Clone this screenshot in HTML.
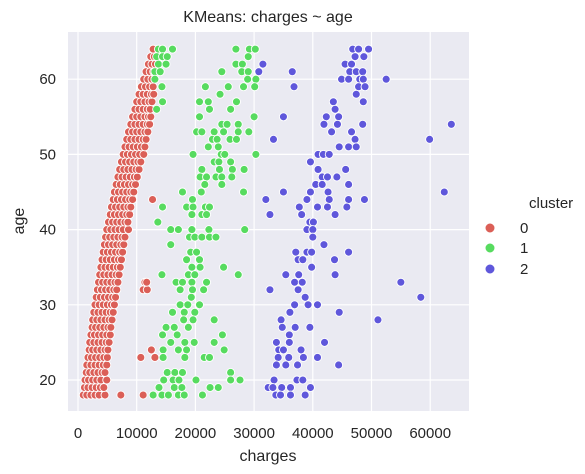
<!DOCTYPE html>
<html><head><meta charset="utf-8"><style>
html,body{margin:0;padding:0;background:#fff;}
svg{display:block;font-family:"Liberation Sans","DejaVu Sans",sans-serif;}
</style></head><body>
<svg id="chart" width="585" height="474" viewBox="0 0 585 474">
<text x="268" y="22" text-anchor="middle" font-size="16" fill="#262626">KMeans: charges ~ age</text>
<rect x="68" y="32" width="401" height="379" fill="#eaeaf2"/>
<g id="grid"></g>
<g id="xticks"></g>
<g id="yticks"></g>
<g id="points"></g>
<text x="268" y="461" text-anchor="middle" font-size="16" fill="#262626">charges</text>
<text x="24" y="221" text-anchor="middle" font-size="16" fill="#262626" transform="rotate(-90 24 221)">age</text>
<g>
<text x="529" y="208" font-size="15" fill="#262626">cluster</text>
<g><circle cx="490" cy="228" r="5" fill="#db5f57" stroke="#fff" stroke-width="1"/><text x="520" y="233" font-size="15" fill="#262626">0</text></g>
<g><circle cx="490" cy="248" r="5" fill="#57db5f" stroke="#fff" stroke-width="1"/><text x="520" y="253" font-size="15" fill="#262626">1</text></g>
<g><circle cx="490" cy="269" r="5" fill="#5f57db" stroke="#fff" stroke-width="1"/><text x="520" y="274" font-size="15" fill="#262626">2</text></g>
</g>
</svg>
<script>
// charges in thousands; rows: [age, [charges...]]
const xTicks = [0, 10000, 20000, 30000, 40000, 50000, 60000];
const yTicks = [20, 30, 40, 50, 60];
const clusterColors = ["#db5f57", "#57db5f", "#5f57db"];
const cluster0Rows = [
[18,[0.9,1.5,2.2,2.9,3.6,4.6,7.3,11.1,12.8]],[19,[1.1,1.7,2.4,3.1,3.8,4.4]],[20,[1.2,1.8,2.5,3.2,3.9,4.9]],
[21,[1.4,2.0,2.7,3.4,4.1,4.6]],[22,[1.5,2.2,2.9,3.6,4.3,4.9]],[23,[1.7,2.3,3.0,3.7,4.4,5.0,10.7,13.1]],
[24,[1.9,2.5,3.2,3.9,4.6,5.1,12.5]],[25,[2.0,2.7,3.4,4.1,4.8,5.3]],[26,[2.2,2.8,3.5,4.2,4.9,5.5]],
[27,[2.4,3.0,3.7,4.4,5.1,5.6]],[28,[2.5,3.2,3.9,4.6,5.3,5.8]],[29,[2.7,3.4,4.1,4.8,5.5,6.0]],
[30,[2.9,3.6,4.3,5.0,5.7,6.2]],[31,[3.1,3.8,4.5,5.2,5.9,6.4]],[32,[3.3,4.0,4.7,5.4,6.1,6.6,11.1,11.8]],
[33,[3.5,4.2,4.9,5.6,6.3,6.8,11.4,11.7]],[34,[3.7,4.4,5.1,5.8,6.5,7.0]],[35,[3.9,4.6,5.3,6.0,6.7,7.2]],
[36,[4.1,4.8,5.5,6.2,6.9,7.4]],[37,[4.3,5.0,5.7,6.4,7.1,7.6]],[38,[4.5,5.2,5.9,6.6,7.3,7.8]],
[39,[4.7,5.4,6.1,6.8,7.5,8.0]],[40,[4.9,5.6,6.3,7.0,7.7,8.6]],[41,[5.2,5.9,6.6,7.3,8.0,8.5]],
[42,[5.5,6.2,6.9,7.6,8.3,8.8]],[43,[5.7,6.4,7.1,7.8,8.5,9.0]],[44,[6.0,6.7,7.4,8.1,8.8,9.3,12.7]],
[45,[6.2,6.9,7.6,8.3,9.0,9.5]],[46,[6.5,7.2,7.9,8.6,9.3,9.8]],[47,[6.8,7.5,8.2,8.9,9.6,10.1]],
[48,[7.1,7.8,8.5,9.2,9.9,10.4]],[49,[7.4,8.1,8.8,9.5,10.2,10.7]],[50,[7.7,8.4,9.1,9.8,10.5,11.2]],
[51,[8.0,8.7,9.4,10.1,10.8,11.4]],[52,[8.3,9.0,9.7,10.4,11.1,11.6]],[53,[8.6,9.3,10.0,10.7,11.4,11.9]],
[54,[9.0,9.7,10.4,11.1,11.8,12.2]],[55,[9.3,10.0,10.7,11.4,12.0,12.4]],[56,[9.7,10.4,11.1,11.8,12.3]],
[57,[10.0,10.7,11.4,12.1,12.6]],[58,[10.4,11.1,11.8,12.5,12.9]],[59,[10.8,11.5,12.2,12.8]],
[60,[11.2,11.9,12.6,13.1]],[61,[11.6,12.3,12.9]],[62,[12.0,12.6,13.2]],[63,[12.4,13.0]],[64,[12.8]]
];
const cluster1Rows = [
[64,[13.7,14.4,16.1,26.9,29.2,30.2]],[63,[13.4,14.4,15.2,29.0]],[62,[13.7,15.0,26.9,28.0]],
[61,[13.1,14.0,24.5,27.9,29.0]],[60,[13.1,28.9,30.3]],[59,[14.3,21.7,25.6,28.2,30.1]],[58,[24.2]],
[57,[14.4,20.7,22.2,27.0]],[56,[13.4,22.4,26.0]],[55,[20.7,30.0]],[54,[24.5,25.4,27.3]],
[53,[20.2,21.1,23.2,24.8,27.3,29.1]],[52,[22.9,23.7,25.9,27.0]],[51,[22.2,23.9]],[50,[19.6,24.4,25.0,30.3]],
[49,[23.2,24.0,26.0]],[48,[21.1,24.1,26.3,28.3]],[47,[20.8,21.9,23.5,24.5,26.2]],[46,[21.6,24.5]],
[45,[17.8,21.0,28.2]],[44,[19.5]],[43,[14.4,18.5,19.6,21.7,22.4]],[42,[19.4,21.1,21.9]],[41,[13.6]],
[40,[15.8,17.1,19.4,22.3,28.4]],[39,[19.0,19.9,21.1,22.4,23.5]],[38,[15.8]],[37,[19.2,20.2]],
[36,[18.5,20.7]],[35,[19.4,20.8,24.8]],[34,[14.3,18.8,19.9,27.3]],[33,[16.7,17.8,19.4,21.9]],
[32,[17.4,19.5,21.4]],[31,[19.3]],[30,[17.4,18.7,20.7]],[29,[16.1,18.1,19.9]],[28,[18.0,19.6,23.2]],
[27,[15.0,16.4,18.8]],[26,[14.4,16.9,24.6]],[25,[15.8,18.2,19.8,23.2]],[24,[14.5,17.1,18.5,24.9]],
[23,[14.5,18.2,21.5,22.4]],[21,[15.2,16.5,17.8,26.0]],[20,[14.6,16.2,17.2,20.1,26.0,27.6]],
[19,[13.8,16.4,17.7,22.5,23.9]],[18,[12.8,14.3,15.4,17.1,18.1,21.2]]
];
const cluster2Rows = [
[64,[46.8,47.8,49.5]],[63,[47.2,48.7]],[62,[31.5,45.5,46.6]],[61,[30.8,36.5,46.3,47.4,48.5]],
[60,[44.9,46.1,48.0,48.6,52.5]],[59,[36.8,47.8,48.9]],[58,[47.4]],[57,[43.5,48.6]],[56,[43.8]],
[55,[35.0,42.3,44.4]],[54,[41.9,44.2,48.5,63.6]],[53,[43.2,46.6]],[52,[33.3,47.2,59.9]],
[51,[44.5,46.1,47.4]],[50,[40.9,41.8,42.8]],[49,[39.6]],[48,[40.9,45.6]],[47,[41.6,42.5,44.1]],
[46,[40.5,41.6,46.1]],[45,[35.0,39.6,42.6,62.4]],[44,[32.0,39.0,42.8,46.1,48.8]],
[43,[37.7,40.8,42.5,45.8]],[42,[32.7,38.1,43.8]],[41,[39.5,40.1]],[40,[39.0,40.0]],[39,[40.0]],
[38,[41.9]],[37,[37.1,39.0,39.8,46.1]],[36,[37.5,38.3,43.7]],[35,[39.8]],[34,[35.4,37.6,43.8]],
[33,[36.9,38.2,55.0]],[32,[32.7,37.5]],[31,[38.7,58.4]],[30,[36.9,39.2,40.8]],[29,[36.1,44.5]],
[28,[34.6,51.1]],[27,[34.8,37.0,39.5]],[26,[36.0]],[25,[33.8,36.0,42.0]],[24,[34.2,35.0,38.0]],
[23,[34.1,35.9,38.4,40.8]],[22,[33.8,35.4,37.4,44.4]],[20,[33.4,37.3,38.3]],
[19,[32.4,33.2,34.7,36.2,39.6]],[18,[33.7,34.5,36.2,38.7]]
];

const NS = "http://www.w3.org/2000/svg";
const X0 = 78, XK = 5.87;   // px per 1000
const Y0 = 380, YK = 7.52;  // age 20 at Y0
function xScale(v){ return X0 + (v/1000)*XK; }
function yScale(a){ return Y0 - (a-20)*YK; }

const grid = document.getElementById("grid");
const xt = document.getElementById("xticks");
const yt = document.getElementById("yticks");
xTicks.forEach(t=>{
  const l = document.createElementNS(NS,"line");
  l.setAttribute("x1",xScale(t)); l.setAttribute("x2",xScale(t));
  l.setAttribute("y1",32); l.setAttribute("y2",411);
  l.setAttribute("stroke","#fff"); l.setAttribute("stroke-width","1.2");
  
  
  grid.appendChild(l);
  const tx = document.createElementNS(NS,"text");
  tx.setAttribute("x",xScale(t)); tx.setAttribute("y",438);
  tx.setAttribute("text-anchor","middle"); tx.setAttribute("font-size","15"); tx.setAttribute("fill","#262626");
  tx.textContent = t;
  
  
  xt.appendChild(tx);
});
yTicks.forEach(t=>{
  const l = document.createElementNS(NS,"line");
  l.setAttribute("x1",68); l.setAttribute("x2",469);
  l.setAttribute("y1",yScale(t)); l.setAttribute("y2",yScale(t));
  l.setAttribute("stroke","#fff"); l.setAttribute("stroke-width","1.2");
  
  
  grid.appendChild(l);
  const tx = document.createElementNS(NS,"text");
  tx.setAttribute("x",56); tx.setAttribute("y",yScale(t)+5);
  tx.setAttribute("text-anchor","end"); tx.setAttribute("font-size","15"); tx.setAttribute("fill","#262626");
  tx.textContent = t;
  
  
  yt.appendChild(tx);
});
const pts = document.getElementById("points");
[cluster0Rows, cluster1Rows, cluster2Rows].forEach((rows,ci)=>{
  rows.forEach(r=>{
    r[1].forEach(c=>{
      const p = document.createElementNS(NS,"circle");
      p.setAttribute("cx",xScale(c*1000)); p.setAttribute("cy",yScale(r[0]));
      p.setAttribute("r","4"); p.setAttribute("fill",clusterColors[ci]);
      p.setAttribute("stroke","#fff"); p.setAttribute("stroke-width","0.9");
      
      
      pts.appendChild(p);
    });
  });
});
</script>
</body></html>
